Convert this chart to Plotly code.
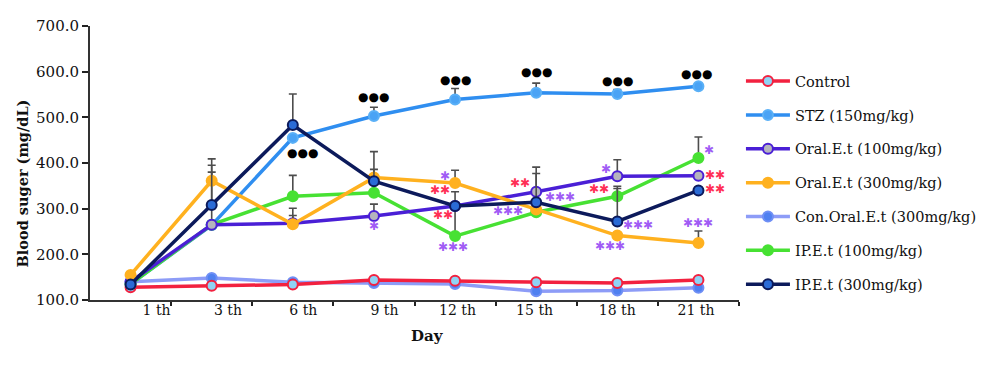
import plotly.graph_objects as go

# ---------------- data ----------------
days = ["1 th", "3 th", "6 th", "9 th", "12 th", "15 th", "18 th", "21 th"]

control       = [128, 131, 134, 144, 142, 139, 137, 144]
stz           = [135, 264, 455, 503, 539, 554, 551, 568]
oral_100      = [140, 265, 268, 284, 306, 337, 371, 372]
oral_300      = [155, 361, 266, 368, 356, 298, 241, 225]
con_oral_300  = [140, 148, 139, 137, 135, 119, 121, 127]
ip_100        = [135, 265, 327, 335, 240, 292, 327, 411]
ip_300        = [134, 308, 483, 360, 306, 314, 272, 340]

# upper error (SEM) values, 0 = none shown
err_control      = [0, 0, 0, 0, 0, 0, 0, 0]
err_stz          = [0, 0, 0, 19, 24, 21, 10, 0]
err_oral_100     = [0, 0, 33, 26, 0, 40, 36, 0]
err_oral_300     = [0, 34, 19, 18, 28, 0, 0, 26]
err_con_oral_300 = [0, 0, 0, 0, 0, 0, 0, 0]
err_ip_100       = [0, 115, 46, 0, 97, 0, 22, 46]
err_ip_300       = [0, 101, 68, 65, 0, 77, 72, 0]

y_ticks = [100, 200, 300, 400, 500, 600, 700]

# significance marks: (day index position, value, text, kind)
sig_x    = [2.12, 3.0, 4.0, 5.0, 6.0, 6.98,
            3.0, 3.87, 3.82, 3.85, 3.98,
            4.80, 4.65, 5.29,
            5.86, 5.78, 6.25, 5.91,
            7.13, 7.20, 7.20, 6.99]
sig_y    = [423, 544, 582, 600, 579, 595,
            261, 372, 340, 287, 217,
            357, 294, 326,
            386, 342, 264, 218,
            429, 373, 344, 268]
sig_text = ["●●●"] * 6 + ["✱", "✱", "✱✱", "✱✱", "✱✱✱",
            "✱✱", "✱✱✱", "✱✱✱",
            "✱", "✱✱", "✱✱✱", "✱✱✱",
            "✱", "✱✱", "✱✱", "✱✱✱"]
sig_kind = ["dot"] * 6 + ["p", "p", "r", "r", "p",
            "r", "p", "p",
            "p", "r", "p", "p",
            "p", "r", "r", "p"]

# ---------------- styling ----------------
series = [
    # name, values, errors, line colour, marker fill, marker outline, legend rank
    ("Con.Oral.E.t (300mg/kg)", con_oral_300, err_con_oral_300, "#8d9cf7", "#4f80f0", "#6f8ff5", 5),
    ("Control", control, err_control, "#f2213f", "#8fd3f5", "#f2213f", 1),
    ("STZ (150mg/kg)", stz, err_stz, "#2f8ef0", "#4aa3f5", "#5ab0f7", 2),
    ("IP.E.t (100mg/kg)", ip_100, err_ip_100, "#47e133", "#47e133", "#47e133", 6),
    ("Oral.E.t (100mg/kg)", oral_100, err_oral_100, "#4a1fd6", "#b5b5bd", "#4a1fd6", 3),
    ("Oral.E.t (300mg/kg)", oral_300, err_oral_300, "#ffb11f", "#ffb11f", "#ffb11f", 4),
    ("IP.E.t (300mg/kg)", ip_300, err_ip_300, "#0c1a5b", "#2b6bd6", "#0c1a5b", 7),
]

xpos = list(range(len(days)))
label_pos = [0.32, 1.20, 2.13, 3.13, 4.03, 4.98, 6.0, 6.97]

fig = go.Figure()
for name, vals, errs, lc, mf, mo, rank in series:
    fig.add_trace(go.Scatter(
        x=xpos, y=vals, name=name, mode="lines+markers",
        line=dict(color=lc, width=3.5),
        marker=dict(size=10, color=mf, line=dict(color=mo, width=2)),
        error_y=dict(type="data", symmetric=False, array=errs,
                     arrayminus=[0] * len(errs), color="#4d4d4d",
                     thickness=1.6, width=4),
        legendgroup=name, legendrank=rank,
    ))

# invisible helper trace so the label axis is drawn
fig.add_trace(go.Scatter(x=xpos, y=control, xaxis="x2", mode="markers",
                         marker=dict(opacity=0), showlegend=False,
                         hoverinfo="skip"))

kind_color = {"dot": "#000000", "p": "#a05cf5", "r": "#ff2f55"}
kind_size = {"dot": 12, "p": 12, "r": 12}
for x, y, t, k in zip(sig_x, sig_y, sig_text, sig_kind):
    fig.add_annotation(x=x, y=y, text=t, showarrow=False, xref="x", yref="y",
                       font=dict(family="DejaVu Sans", size=kind_size[k],
                                 color=kind_color[k]))

serif = "DejaVu Serif"
fig.add_annotation(text="<b>Blood suger (mg/dL)</b>", xref="paper", yref="paper",
                   x=-0.12, y=0.424, textangle=-90, showarrow=False,
                   font=dict(family=serif, size=14.5, color="#111"))
fig.add_annotation(text="<b>Day</b>", xref="paper", yref="paper",
                   x=0.52, y=-0.17, showarrow=False,
                   font=dict(family=serif, size=15, color="#111"))

# the page body adds an 8px offset, so the figure is shrunk by that amount
fig.update_layout(
    width=992, height=357,
    margin=dict(l=82, r=261, t=9, b=65),
    paper_bgcolor="white", plot_bgcolor="white",
    font=dict(family=serif, color="#111"),
    xaxis=dict(range=[-0.5, 7.5], tickvals=[i + 0.5 for i in xpos],
               ticktext=[""] * len(xpos), ticks="outside", ticklen=4,
               tickwidth=2, tickcolor="#222", showline=True, linecolor="#333",
               linewidth=2, showgrid=False, zeroline=False),
    xaxis2=dict(range=[-0.5, 7.5], overlaying="x", anchor="y", side="bottom",
                tickvals=label_pos, ticktext=days, ticks="", showline=False,
                showgrid=False, zeroline=False,
                tickfont=dict(family=serif, size=14, color="#111")),
    yaxis=dict(range=[100, 700], tickvals=y_ticks, tickformat=".1f",
               ticks="outside", ticklen=6, tickwidth=2, tickcolor="#222",
               showline=True, linecolor="#333", linewidth=2, showgrid=False,
               zeroline=False, tickfont=dict(family=serif, size=15, color="#111")),
    legend=dict(x=1.003, y=0.857, xanchor="left", yanchor="top",
                font=dict(family=serif, size=14.5, color="#111"),
                tracegroupgap=12, itemwidth=44, bgcolor="rgba(0,0,0,0)"),
    showlegend=True,
)

fig.write_html("out.html")
